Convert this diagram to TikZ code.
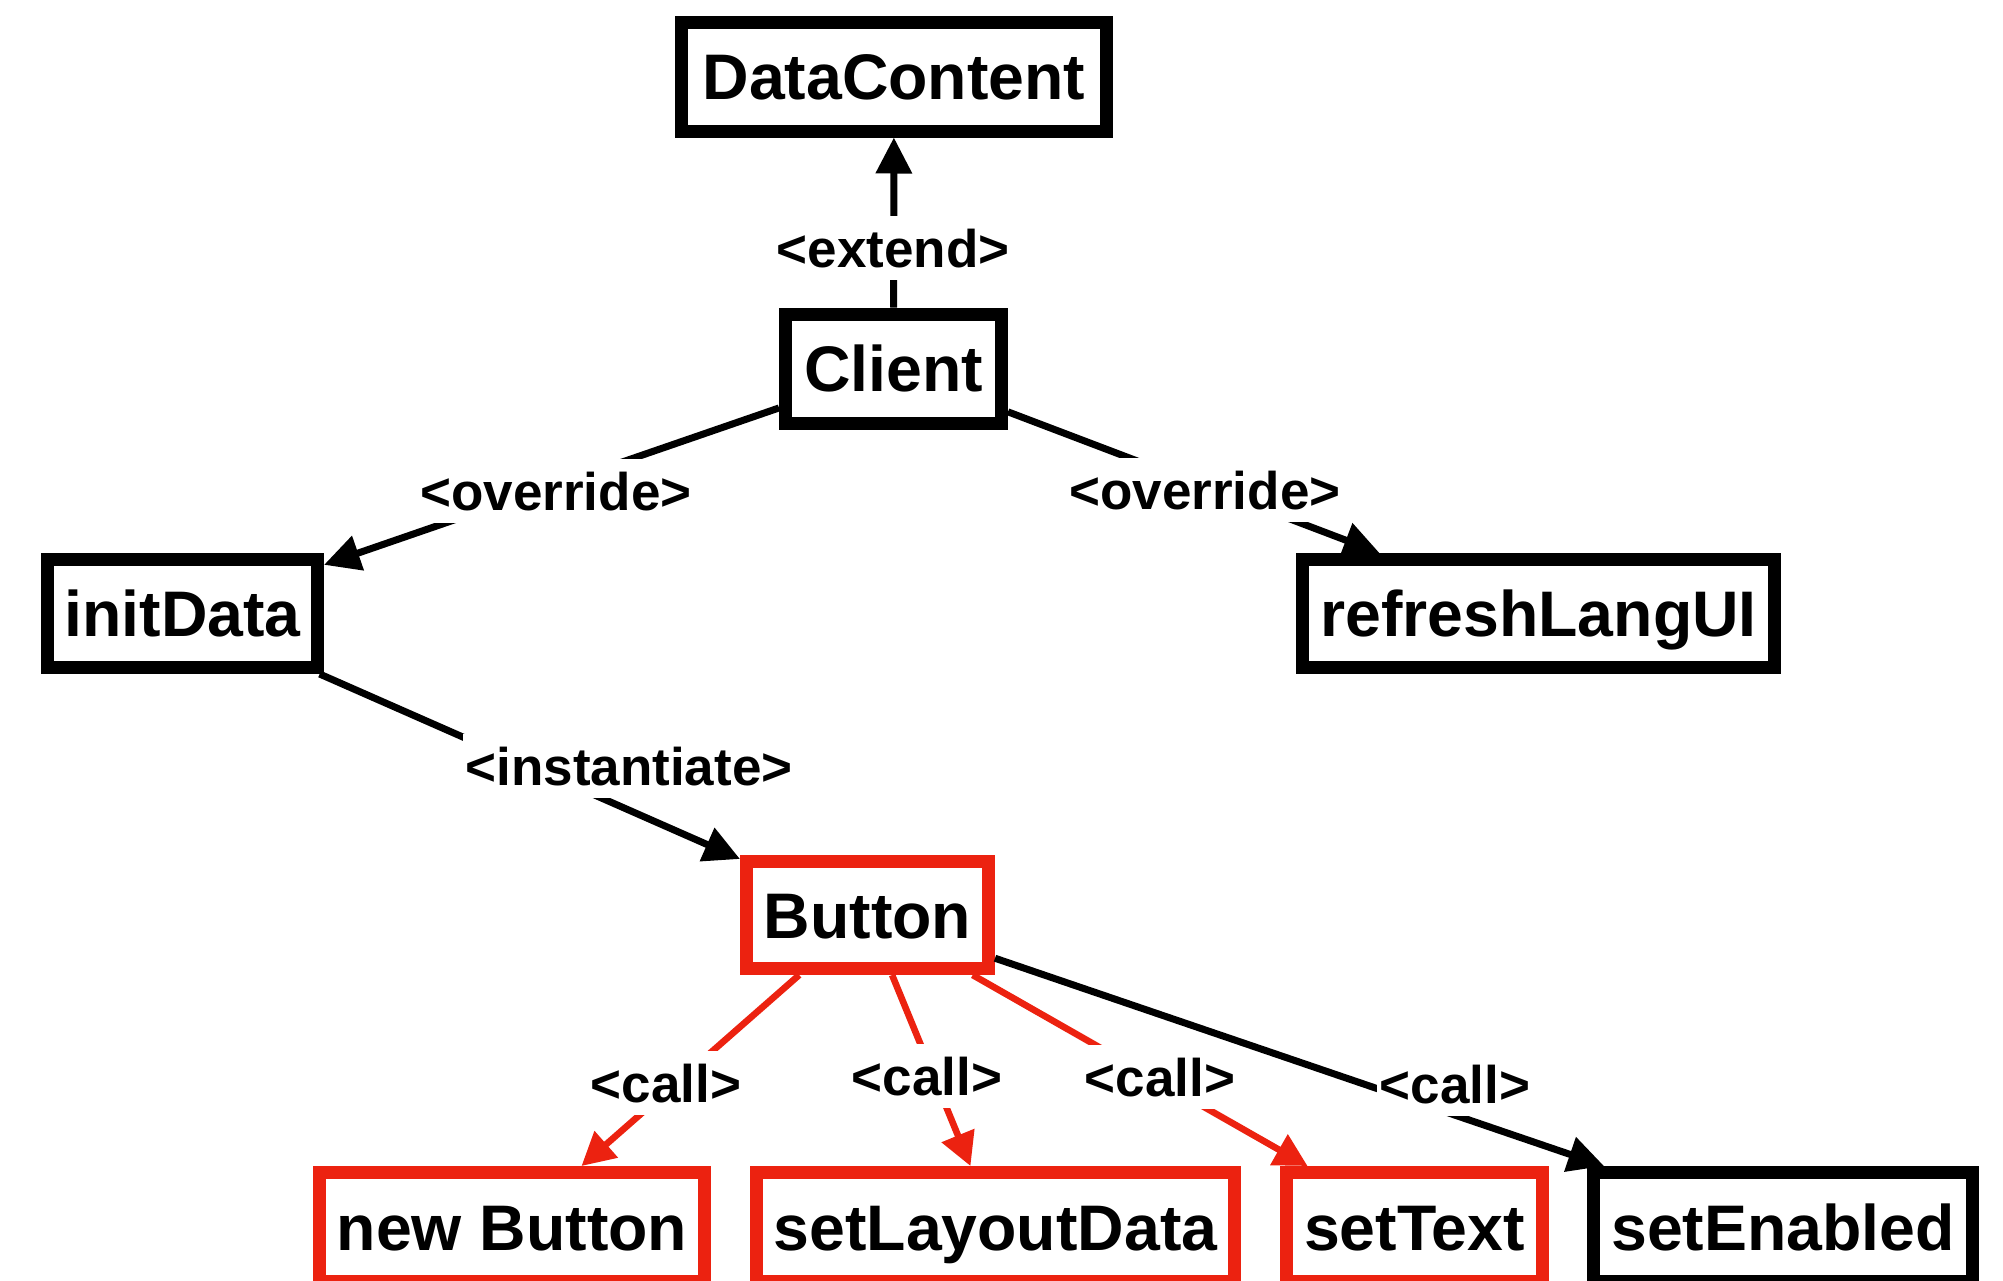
\documentclass[tikz,border=0pt]{standalone}
\usepackage{fontspec}
\setmainfont{Liberation Sans}
\usetikzlibrary{arrows.meta}
\definecolor{callred}{RGB}{236,34,16}
\begin{document}
\begin{tikzpicture}[x=0.5pt,y=-0.5pt,
  box/.style={draw, line width=6.5pt, rectangle, inner sep=0pt,
    font=\fontsize{32.2}{36}\selectfont\bfseries,
    text height=23.2pt, text depth=0pt, minimum height=54.5pt},
  redbox/.style={box, draw=callred},
  link/.style={line width=3.5pt, -{Triangle[length=18pt,width=17.5pt]}},
  redlink/.style={line width=3.3pt, draw=callred, -{Triangle[length=16.5pt,width=17pt]}},
  tag/.style={fill=white, inner xsep=1.5pt, inner ysep=6.5pt,
    font=\fontsize{26.5}{30}\selectfont\bfseries,
    text height=19pt, text depth=0pt}
]
\useasboundingbox (0,0) rectangle (2003,1280);
\clip (0,0) rectangle (2003,1280);
\fill[white] (0,0) rectangle (2003,1280);

% classes and methods
\node[box, minimum width=212.5pt] (dc)      at (894,76.5)    {DataContent};
\node[box, minimum width=108pt]   (client)  at (893.5,368.5) {Client};
\node[box, minimum width=135pt, minimum height=54pt] (init)    at (182.5,613.5)  {initData};
\node[box, minimum width=236pt, minimum height=54pt] (refresh) at (1538.5,613.5) {refreshLangUI};
\node[redbox, minimum width=121pt, minimum height=53.5pt] (button) at (867.5,915) {Button};
\node[redbox, minimum width=192.5pt] (newb)    at (512,1227)    {new Button};
\node[redbox, minimum width=239pt]   (layout)  at (995.5,1227)  {setLayoutData};
\node[redbox, minimum width=128pt]   (settext) at (1414.5,1227) {setText};
\node[box, minimum width=189.5pt]    (enabled) at (1783,1227)   {setEnabled};

% relations
\draw[link] (client) -- (dc);
\draw[link] (client) -- (init);
\draw[link] (client) -- (refresh);
\draw[link] (init) -- (button);
\draw[redlink] (button) -- (newb);
\draw[redlink] (button) -- (layout);
\draw[redlink] (button) -- (settext);
\draw[link] (button) -- (enabled);

% relation labels
\node[tag] (tExtend) at (893,248)   {<extend>};
\node[tag] (tOvL)    at (556,491)   {<override>};
\node[tag] (tOvR)    at (1205,490)  {<override>};
\node[tag] (tInst)   at (629,766)   {<instantiate>};
\node[tag] (tCall1)  at (666,1083)  {<call>};
\node[tag] (tCall2)  at (927,1076)  {<call>};
\node[tag] (tCall3)  at (1160,1077) {<call>};
\node[tag] (tCall4)  at (1455,1084) {<call>};
\end{tikzpicture}
\end{document}
